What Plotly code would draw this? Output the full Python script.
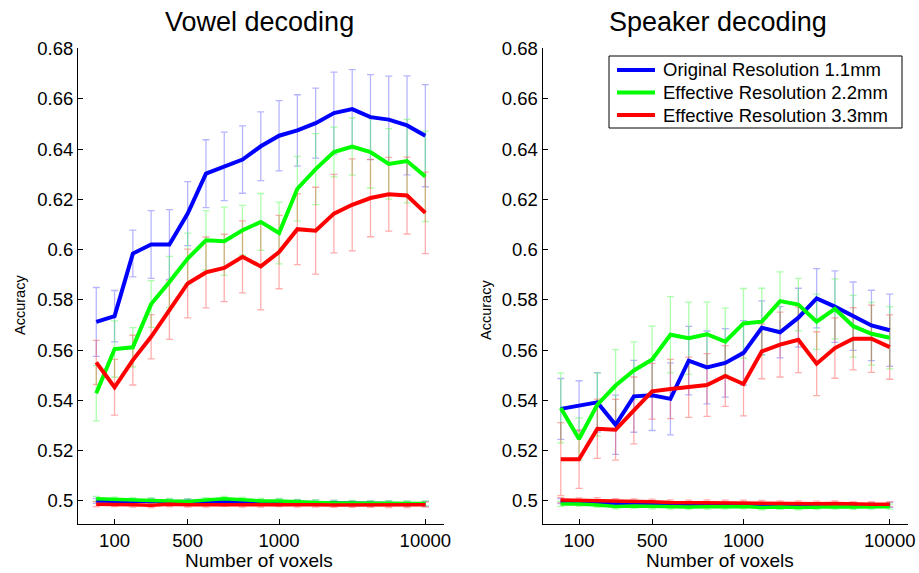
import plotly.graph_objects as go

# ---------------- data ----------------
voxels = [50, 100, 200, 300, 400, 500, 600, 700, 800, 900, 1000,
          2000, 3000, 4000, 5000, 6000, 7000, 8000, 10000]
tick_voxels = [100, 500, 1000, 10000]
series_names = ["Original Resolution 1.1mm", "Effective Resolution 2.2mm", "Effective Resolution 3.3mm"]

# Vowel decoding (left)
vowel_orig = [0.5712, 0.5735, 0.5984, 0.6020, 0.6020, 0.6143, 0.6302, 0.6331, 0.6358, 0.6411,
              0.6453, 0.6474, 0.6503, 0.6543, 0.6559, 0.6527, 0.6517, 0.6494, 0.6453]
vowel_orig_err = [0.0137, 0.0102, 0.0093, 0.0135, 0.0139, 0.0127, 0.0135, 0.0136, 0.0134, 0.0137,
                  0.0140, 0.0142, 0.0139, 0.0163, 0.0157, 0.0169, 0.0173, 0.0197, 0.0203]
vowel_22 = [0.5428, 0.5604, 0.5611, 0.5783, 0.5871, 0.5964, 0.6037, 0.6033, 0.6077, 0.6110,
            0.6066, 0.6242, 0.6320, 0.6388, 0.6410, 0.6388, 0.6341, 0.6352, 0.6291]
vowel_22_err = [0.0110, 0.0112, 0.0078, 0.0093, 0.0102, 0.0101, 0.0118, 0.0136, 0.0099, 0.0113,
                0.0123, 0.0129, 0.0141, 0.0099, 0.0114, 0.0143, 0.0140, 0.0166, 0.0180]
vowel_33 = [0.5551, 0.5452, 0.5560, 0.5653, 0.5759, 0.5865, 0.5909, 0.5927, 0.5971, 0.5933,
            0.5990, 0.6081, 0.6075, 0.6143, 0.6178, 0.6205, 0.6220, 0.6215, 0.6146]
vowel_33_err = [0.0088, 0.0111, 0.0099, 0.0088, 0.0116, 0.0137, 0.0141, 0.0134, 0.0143, 0.0173,
                0.0146, 0.0141, 0.0173, 0.0156, 0.0183, 0.0154, 0.0147, 0.0153, 0.0162]
vowel_orig_chance = [0.5000, 0.4998, 0.4998, 0.5000, 0.4997, 0.4998, 0.4996, 0.4997, 0.4996, 0.4995,
                     0.4997, 0.4995, 0.4993, 0.4992, 0.4990, 0.4990, 0.4990, 0.4988, 0.4988]
vowel_22_chance = [0.5008, 0.5005, 0.5003, 0.5002, 0.5000, 0.4998, 0.5003, 0.5008, 0.5004, 0.5000,
                   0.5000, 0.4996, 0.4994, 0.4992, 0.4992, 0.4991, 0.4991, 0.4990, 0.4990]
vowel_33_chance = [0.4987, 0.4987, 0.4985, 0.4983, 0.4987, 0.4985, 0.4985, 0.4988, 0.4985, 0.4985,
                   0.4987, 0.4985, 0.4985, 0.4984, 0.4984, 0.4984, 0.4983, 0.4983, 0.4985]

# Speaker decoding (right)
speaker_orig = [0.5366, 0.5378, 0.5392, 0.5303, 0.5416, 0.5420, 0.5406, 0.5558, 0.5531, 0.5549,
                0.5589, 0.5689, 0.5671, 0.5729, 0.5806, 0.5773, 0.5735, 0.5698, 0.5679]
speaker_orig_err = [0.0121, 0.0100, 0.0118, 0.0118, 0.0143, 0.0140, 0.0143, 0.0136, 0.0145, 0.0136,
                    0.0128, 0.0107, 0.0102, 0.0117, 0.0118, 0.0142, 0.0136, 0.0140, 0.0144]
speaker_22 = [0.5370, 0.5246, 0.5383, 0.5459, 0.5519, 0.5563, 0.5661, 0.5647, 0.5663, 0.5634,
              0.5706, 0.5713, 0.5795, 0.5781, 0.5713, 0.5764, 0.5695, 0.5665, 0.5649]
speaker_22_err = [0.0139, 0.0084, 0.0125, 0.0143, 0.0114, 0.0132, 0.0152, 0.0144, 0.0128, 0.0133,
                  0.0139, 0.0133, 0.0116, 0.0104, 0.0110, 0.0119, 0.0123, 0.0125, 0.0124]
speaker_33 = [0.5166, 0.5166, 0.5287, 0.5283, 0.5360, 0.5436, 0.5445, 0.5452, 0.5461, 0.5497,
              0.5465, 0.5595, 0.5622, 0.5641, 0.5546, 0.5608, 0.5645, 0.5645, 0.5612]
speaker_33_err = [0.0145, 0.0116, 0.0118, 0.0121, 0.0133, 0.0111, 0.0118, 0.0120, 0.0125, 0.0121,
                  0.0127, 0.0109, 0.0129, 0.0131, 0.0127, 0.0120, 0.0124, 0.0134, 0.0128]
speaker_orig_chance = [0.4999, 0.4995, 0.4993, 0.4988, 0.4986, 0.4985, 0.4985, 0.4984, 0.4985, 0.4984,
                       0.4984, 0.4983, 0.4983, 0.4982, 0.4983, 0.4983, 0.4982, 0.4983, 0.4984]
speaker_22_chance = [0.4988, 0.4988, 0.4984, 0.4978, 0.4980, 0.4978, 0.4977, 0.4976, 0.4977, 0.4978,
                     0.4978, 0.4974, 0.4976, 0.4974, 0.4976, 0.4977, 0.4976, 0.4977, 0.4977]
speaker_33_chance = [0.5003, 0.5002, 0.5003, 0.4999, 0.4998, 0.4997, 0.4994, 0.4993, 0.4994, 0.4993,
                     0.4993, 0.4992, 0.4990, 0.4990, 0.4989, 0.4990, 0.4987, 0.4987, 0.4987]
chance_err = [0.0010, 0.0010, 0.0010, 0.0010, 0.0010, 0.0010, 0.0010, 0.0010, 0.0010, 0.0010,
              0.0010, 0.0010, 0.0010, 0.0010, 0.0010, 0.0010, 0.0010, 0.0010, 0.0010]

y_ticks = [0.5, 0.52, 0.54, 0.56, 0.58, 0.6, 0.62, 0.64, 0.66, 0.68]
y_tick_text = ["0.5", "0.52", "0.54", "0.56", "0.58", "0.6", "0.62", "0.64", "0.66", "0.68"]

# ---------------- figure ----------------
FONT = "Liberation Sans, Arial, Helvetica, sans-serif"
colors = ["#0000ff", "#00ff00", "#ff0000"]
err_colors = ["rgba(80,80,255,0.42)", "rgba(60,255,60,0.42)", "rgba(255,60,60,0.42)"]

x_idx = list(range(1, len(voxels) + 1))
tickvals = [voxels.index(v) + 1 for v in tick_voxels]
ticktext = [str(v) for v in tick_voxels]

fig = go.Figure()

panels = [
    ("x", "y", [vowel_orig, vowel_22, vowel_33], [vowel_orig_err, vowel_22_err, vowel_33_err],
     [vowel_orig_chance, vowel_22_chance, vowel_33_chance]),
    ("x2", "y2", [speaker_orig, speaker_22, speaker_33], [speaker_orig_err, speaker_22_err, speaker_33_err],
     [speaker_orig_chance, speaker_22_chance, speaker_33_chance]),
]

for xa, ya, means, errs, chances in panels:
    for k in range(3):
        for vals, e in ((means[k], errs[k]), (chances[k], chance_err)):
            fig.add_trace(go.Scatter(
                x=x_idx, y=vals, xaxis=xa, yaxis=ya, mode="markers",
                marker=dict(size=1, color="rgba(0,0,0,0)"),
                error_y=dict(type="data", array=e, visible=True, color=err_colors[k],
                             thickness=1.3, width=3.5),
                showlegend=False, hoverinfo="skip"))
    for k in range(3):
        fig.add_trace(go.Scatter(
            x=x_idx, y=chances[k], xaxis=xa, yaxis=ya, mode="lines",
            line=dict(color=colors[k], width=3.5), showlegend=False))
    for k in range(3):
        fig.add_trace(go.Scatter(
            x=x_idx, y=means[k], xaxis=xa, yaxis=ya, mode="lines",
            line=dict(color=colors[k], width=4), name=series_names[k],
            showlegend=False))

axis_common = dict(showgrid=False, zeroline=False, showline=True, linecolor="black",
                   linewidth=1, ticks="inside", ticklen=5, tickcolor="black",
                   automargin=False,
                   tickfont=dict(family=FONT, size=18.5, color="black"))

xcommon = dict(axis_common, range=[0, 20], tickmode="array", tickvals=tickvals,
               ticktext=ticktext)
ycommon = dict(axis_common, range=[0.4908, 0.6802], tickmode="array", tickvals=y_ticks,
               ticktext=y_tick_text)

W, H = 919, 573
L, R, T, B = 78, 11, 48, 49
PW = W - L - R
PH = H - T - B


def px(xp):
    return (xp - L) / PW


def py(yp):
    return (H - B - yp) / PH


def ann(text, x, y, size, angle=0, xanchor="center"):
    return dict(text=text, x=px(x), y=py(y), xref="paper", yref="paper",
                xanchor=xanchor, yanchor="middle", showarrow=False, textangle=angle,
                font=dict(family=FONT, size=size, color="black"))


annotations = [
    ann("Vowel decoding", 259, 22, 27),
    ann("Speaker decoding", 718, 22, 27),
    ann("Number of voxels", 259, 560, 19),
    ann("Number of voxels", 720, 560, 19),
    ann("Accuracy", 20, 305, 14.5, -90),
    ann("Accuracy", 486, 310, 14.5, -90),
]

# legend box (drawn as shapes + text, to match the compact box of the original)
legend_rows_y = [70, 92.5, 115]
shapes = [dict(type="rect", xref="paper", yref="paper", x0=px(609), x1=px(902),
               y0=py(128), y1=py(56), line=dict(color="black", width=1),
               fillcolor="white", layer="above")]
for k in range(3):
    shapes.append(dict(type="line", xref="paper", yref="paper", x0=px(617), x1=px(655),
                       y0=py(legend_rows_y[k]), y1=py(legend_rows_y[k]),
                       line=dict(color=colors[k], width=4), layer="above"))
    annotations.append(ann(series_names[k], 661, legend_rows_y[k], 18.5, xanchor="left"))

fig.update_layout(
    width=W, height=H,
    margin=dict(l=L, r=R, t=T, b=B),
    paper_bgcolor="white", plot_bgcolor="white",
    font=dict(family=FONT, color="black"),
    xaxis=dict(xcommon, domain=[0, px(443.6)], anchor="y"),
    yaxis=dict(ycommon, domain=[0, 1], anchor="x"),
    xaxis2=dict(xcommon, domain=[px(542.5), 1], anchor="y2"),
    yaxis2=dict(ycommon, domain=[0, 1], anchor="x2"),
    showlegend=False,
    hovermode=False,
    shapes=shapes,
    annotations=annotations,
)

fig.write_html("out.html",
               config={"displayModeBar": False},
               post_script="document.body.style.margin='0px';document.body.style.overflow='hidden';")
